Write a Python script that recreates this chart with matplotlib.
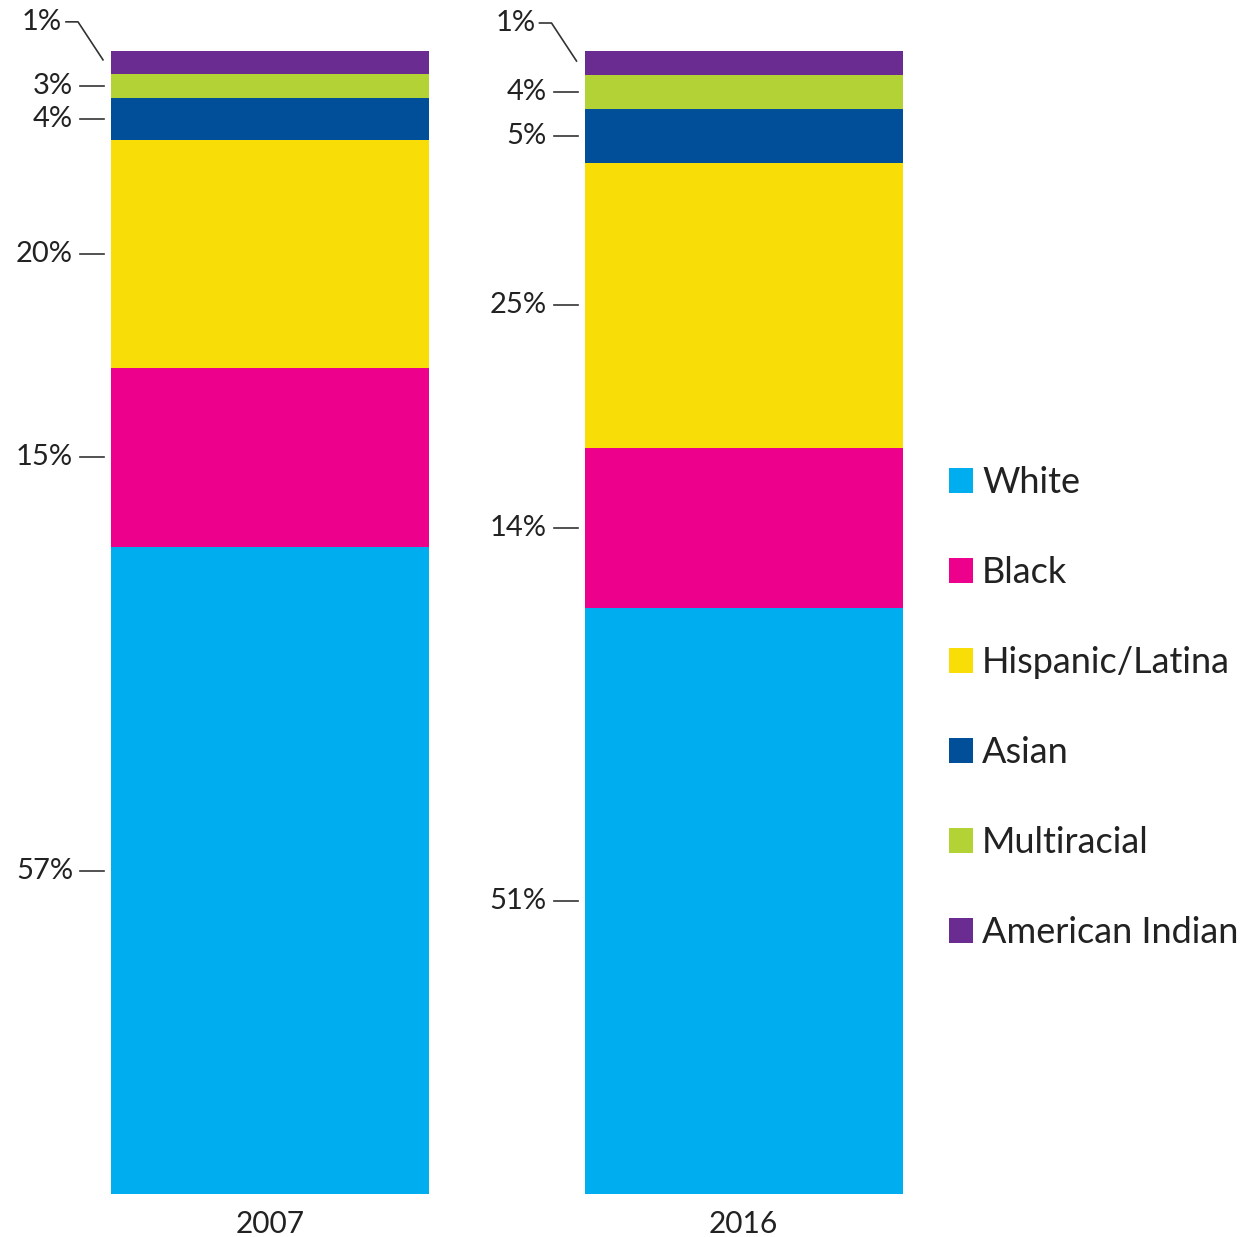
import numpy as np
import matplotlib
matplotlib.use("Agg")
import matplotlib.pyplot as plt

plt.rcParams['font.family'] = ['Lato', 'DejaVu Sans']

years = ['2007', '2016']
groups = ['White', 'Black', 'Hispanic/Latina', 'Asian', 'Multiracial', 'American Indian']
colors = ['#00AEEF', '#EC008C', '#F9DD06', '#004F98', '#B2D235', '#6A2C91']

# share of each group, bottom to top
share_2007 = [56.6, 15.7, 19.9, 3.7, 2.1, 2.1]
share_2016 = [51.3, 14.0, 24.9, 4.7, 3.0, 2.1]
labels_2007 = ['57%', '15%', '20%', '4%', '3%', '1%']
labels_2016 = ['51%', '14%', '25%', '5%', '4%', '1%']

shares = np.array([share_2007, share_2016])
labels = [labels_2007, labels_2016]

W, H = 1251, 1237
fig = plt.figure(figsize=(W / 100, H / 100), dpi=100)
ax = fig.add_axes([0, 43 / H, 1, 1143 / H])
ax.set_xlim(-270 / 473.5, 981 / 473.5)
ax.set_ylim(0, 100)
ax.axis('off')

x = np.arange(len(years))
width = 318 / 473.5
bottom = np.zeros(len(years))
for i, g in enumerate(groups):
    ax.bar(x, shares[:, i], width, bottom=bottom, color=colors[i], label=g)
    bottom += shares[:, i]

def px_to_data(xd, yd, dx, dy):
    # data point shifted by dx, dy pixels (dy up)
    px, py = ax.transData.transform((xd, yd))
    return ax.transData.inverted().transform((px + dx, py + dy))

line_kw = dict(color='#333333', lw=1.2, clip_on=False)
txt_kw = dict(fontsize=21, color='#222222')
for j in range(len(years)):
    left = x[j] - width / 2
    cum = np.concatenate([[0], np.cumsum(shares[j])])
    for i in range(len(groups) - 1):
        mid = (cum[i] + cum[i + 1]) / 2
        a = px_to_data(left, mid, -31, 0)
        b = px_to_data(left, mid, -7, 0)
        ax.plot([a[0], b[0]], [a[1], b[1]], **line_kw)
        t = px_to_data(left, mid, -38, 0)
        ax.text(t[0], t[1], labels[j][i], ha='right', va='center', **txt_kw)
    # top segment label with elbow leader
    top = cum[-1]
    pts = [px_to_data(left, top, dx, dy) for dx, dy in [(-45, 28), (-33, 28), (-8, -10)]]
    ax.plot([p[0] for p in pts], [p[1] for p in pts], **line_kw)
    t = px_to_data(left, top, -49, 28)
    ax.text(t[0], t[1], labels[j][-1], ha='right', va='center', **txt_kw)
    yl = px_to_data(x[j], 0, 0, -30)
    ax.text(yl[0], yl[1], years[j], ha='center', va='center',
            fontsize=21.5, color='#222222')

ax.legend(loc='upper left', bbox_to_anchor=(949 / W, 1 - (466 - 51) / 1143),
          frameon=False, fontsize=26, handlelength=0.67, handleheight=0.67,
          handletextpad=0.25, labelspacing=1.58, borderaxespad=0, borderpad=0,
          labelcolor='#222222')

fig.savefig('out.png', dpi=100)
